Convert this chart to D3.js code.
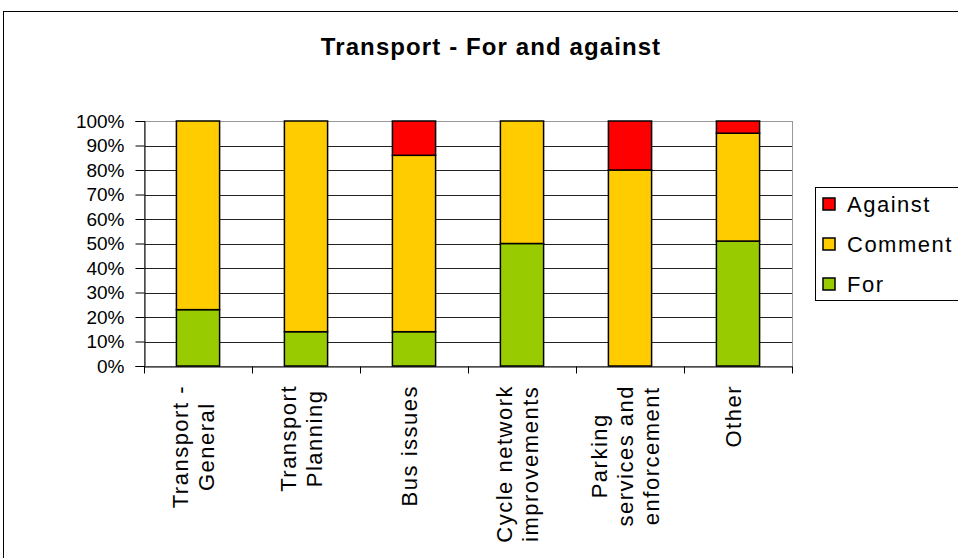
<!DOCTYPE html>
<html><head><meta charset="utf-8">
<script src="https://cdn.jsdelivr.net/npm/d3@7"></script>
<style>
html,body{margin:0;padding:0;background:#fff;}
svg{display:block;font-family:"Liberation Sans",Arial,sans-serif;}
</style></head>
<body><svg id="c" width="958" height="558"></svg>
<script>
const categories = [["Transport -","General"],["Transport","Planning"],["Bus issues"],["Cycle network","improvements"],["Parking","services and","enforcement"],["Other"]];
const forValues = [23,14,14,50,0,51];
const commentValues = [77,86,72,50,80,44];
const againstValues = [0,0,14,0,20,5];
const seriesNames = ["For","Comment","Against"];
const seriesColors = ["#99CC00","#FFCC00","#FF0000"];
const yTicks = [0,10,20,30,40,50,60,70,80,90,100];
const title = "Transport - For and against";

const svg = d3.select("#c");
// outer border
svg.append("rect").attr("x",3.5).attr("y",11.5).attr("width",1000).attr("height",600)
  .attr("fill","none").attr("stroke","#000").attr("stroke-width",1);

svg.append("text").attr("x",491).attr("y",55).attr("text-anchor","middle")
  .attr("font-size",24).attr("font-weight","bold").attr("letter-spacing","1.1px")
  .text(title);

const L=144,R=792,T=121,B=366;
const x = d3.scaleBand().domain(d3.range(categories.length)).range([L,R]).paddingInner(0).paddingOuter(0);
const y = d3.scaleLinear().domain([0,100]).range([B,T]);

// gridlines
svg.append("g").selectAll("line").data(yTicks.slice(1)).join("line")
  .attr("x1",L).attr("x2",R).attr("y1",d=>Math.round(y(d))+0.5).attr("y2",d=>Math.round(y(d))+0.5)
  .attr("stroke","#222").attr("stroke-width",1);
// plot border
svg.append("rect").attr("x",L+0.5).attr("y",T+0.5).attr("width",R-L).attr("height",B-T)
  .attr("fill","none").attr("stroke","#999").attr("stroke-width",1);

// stacked bars
const rows = categories.map((c,i)=>({i, For:forValues[i], Comment:commentValues[i], Against:againstValues[i]}));
const stack = d3.stack().keys(seriesNames)(rows);
const bw = x.bandwidth()*0.4;
stack.forEach((s,si)=>{
  svg.append("g").selectAll("rect").data(s.filter(d=>d[1]-d[0]>0)).join("rect")
    .attr("x",d=>x(d.data.i)+(x.bandwidth()-bw)/2)
    .attr("y",d=>y(d[1]))
    .attr("width",bw)
    .attr("height",d=>y(d[0])-y(d[1]))
    .attr("fill",seriesColors[si]).attr("stroke","#000").attr("stroke-width",1.5);
});

// y axis
const yAxis = d3.axisLeft(y).tickValues(yTicks).tickFormat(d=>d+"%").tickSize(9).tickPadding(11);
const gy = svg.append("g").attr("transform",`translate(${L+0.5},0)`).call(yAxis);
gy.select(".domain").attr("stroke","#000");
gy.selectAll(".tick line").attr("stroke","#000");
gy.selectAll(".tick text").attr("font-size",19).attr("fill","#000").attr("font-family","Liberation Sans, Arial, sans-serif");

// x axis
const xb = d3.scaleLinear().domain([0,categories.length]).range([L,R]);
const xAxis = d3.axisBottom(xb).tickValues(d3.range(categories.length+1)).tickFormat("").tickSize(7).tickSizeOuter(0);
const gx = svg.append("g").attr("transform",`translate(0,${B+0.5})`).call(xAxis);
gx.select(".domain").attr("stroke","#000");
gx.selectAll(".tick line").attr("stroke","#000");

// category labels
const lineGap = 26, fs = 22;
categories.forEach((lines,i)=>{
  const cx = x(i)+x.bandwidth()/2;
  const g = svg.append("g");
  const texts = lines.map((ln,j)=>{
    const px = cx + (j-(lines.length-1)/2)*lineGap + fs*0.36 - 5;
    return g.append("text").attr("font-size",fs).attr("letter-spacing","1.5px")
      .attr("text-anchor","middle").attr("data-px",px).text(ln);
  });
  const W = d3.max(texts,t=>t.node().getComputedTextLength());
  texts.forEach(t=>{
    const px = +t.attr("data-px");
    t.attr("transform",`translate(${px},${385+W/2}) rotate(-90)`);
  });
});

// legend
const lg = svg.append("g");
lg.append("rect").attr("x",815.5).attr("y",187.5).attr("width",200).attr("height",113)
  .attr("fill","#fff").attr("stroke","#000");
const legendOrder = [2,1,0];
legendOrder.forEach((si,k)=>{
  const cy = 204 + k*40;
  lg.append("rect").attr("x",823).attr("y",cy-6).attr("width",12).attr("height",12)
    .attr("fill",seriesColors[si]).attr("stroke","#000").attr("stroke-width",1.5);
  lg.append("text").attr("x",847).attr("y",cy+8).attr("font-size",22).attr("letter-spacing","1.5px").text(seriesNames[si]);
});
</script></body></html>
